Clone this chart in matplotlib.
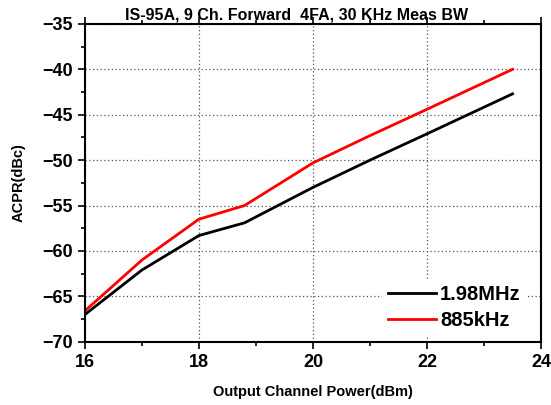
import matplotlib
matplotlib.use("Agg")
import matplotlib.pyplot as plt
from matplotlib.ticker import MultipleLocator

plt.rcParams['font.family'] = ['Liberation Sans', 'DejaVu Sans']
plt.rcParams['font.weight'] = 'bold'

x_198 = [16, 17, 18, 18.8, 20, 21, 22, 23.5]
y_198 = [-67.0, -62.1, -58.3, -56.9, -53.0, -50.0, -47.1, -42.7]
x_885 = [16, 17, 18, 18.8, 20, 21, 22, 23.5]
y_885 = [-66.6, -61.0, -56.5, -55.0, -50.3, -47.3, -44.4, -40.0]
labels = ["1.98MHz", "885kHz"]

fig = plt.figure(figsize=(5.51, 4.05), dpi=100)
ax = fig.add_axes([0.154, 0.156, 0.828, 0.785])
ax.plot(x_198, y_198, color='black', lw=2, label=labels[0])
ax.plot(x_885, y_885, color='red', lw=2, label=labels[1])

ax.set_xlim(16, 24)
ax.set_ylim(-70, -35)
ax.xaxis.set_major_locator(MultipleLocator(2))
ax.xaxis.set_minor_locator(MultipleLocator(1))
ax.yaxis.set_major_locator(MultipleLocator(5))
ax.yaxis.set_minor_locator(MultipleLocator(2.5))
ax.grid(True, which='major', linestyle=(0, (1, 2)), color='#555555', lw=0.9)
ax.tick_params(which='both', direction='out', top=True, right=False, width=1.2)
ax.tick_params(which='major', length=5, labelsize=13)
ax.tick_params(which='minor', length=3)
for lab in ax.get_xticklabels() + ax.get_yticklabels():
    lab.set_fontweight('bold')
for s in ax.spines.values():
    s.set_linewidth(1.5)

ax.set_xlabel("Output Channel Power(dBm)", fontsize=10.5, fontweight='bold', labelpad=10)
ax.set_ylabel("ACPR(dBc)", fontsize=10.5, fontweight='bold', labelpad=12)
ax.set_title("IS-95A, 9 Ch. Forward  4FA, 30 KHz Meas BW", fontsize=11.5, fontweight='bold',
             pad=3, x=0.465)

leg = ax.legend(loc='lower right', frameon=True, fontsize=14.5, handlelength=2.4,
                handletextpad=0.2, labelspacing=0.35, bbox_to_anchor=(0.991, -0.013),
                facecolor='white', edgecolor='none', framealpha=1.0, fancybox=False,
                borderpad=0.3)
for t in leg.get_texts():
    t.set_fontweight('bold')

fig.savefig("out.png", dpi=100)
